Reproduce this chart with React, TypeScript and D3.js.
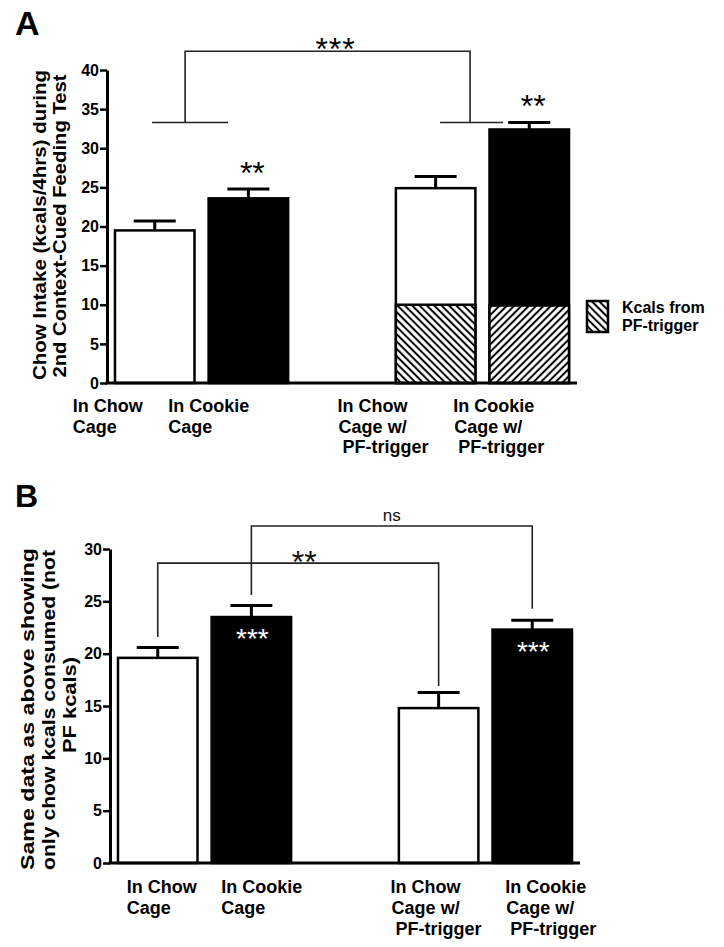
import React, { useRef, useEffect } from "react";
import * as d3 from "d3";

// group keys; "gap" keeps the empty slot between the two pairs of bars
const groupKeys = ["chow", "cookie", "gap", "chowPF", "cookiePF"];
const barKeys = ["chow", "cookie", "chowPF", "cookiePF"];
const barFill = ["#fff", "#000", "#fff", "#000"];
const groupLabels = [
  ["In Chow", "Cage"],
  ["In Cookie", "Cage"],
  ["In Chow", "Cage w/", "PF-trigger"],
  ["In Cookie", "Cage w/", "PF-trigger"],
];

// panel A: chow intake (kcals / 4hrs) incl. PF-trigger kcals
const totalMean = [19.5, 23.6, 24.9, 32.4];
const totalSem = [1.2, 1.2, 1.5, 0.9];
const pfKcal = [0, 0, 10.0, 9.9];
const pfHatch = ["", "", "hatchBack", "hatchFwd"];
const starsA = ["", "**", "", "**"];
const ticksA = [0, 5, 10, 15, 20, 25, 30, 35, 40];

// panel B: only chow kcals
const chowMean = [19.6, 23.5, 14.8, 22.3];
const chowSem = [1.0, 1.1, 1.5, 0.9];
const starsB = ["", "***", "", "***"];
const ticksB = [0, 5, 10, 15, 20, 25, 30];

// comparison brackets, in axis units
const bracketA = { label: "***", top: 42.4, foot: 33.3 };
const bracketsB = [
  { from: "chow", to: "chowPF", top: 28.65, footFrom: 21.6, footTo: 16.9, label: "**" },
  { from: "cookie", to: "cookiePF", top: 32.2, footFrom: 25.6, footTo: 24.3, label: "ns" },
];

const FONT = "'Liberation Sans', Arial, Helvetica, sans-serif";

const xA = d3.scaleBand().domain(groupKeys).range([107, 577]).paddingInner(0.124).paddingOuter(0.072);
const yA = d3.scaleLinear().domain([0, 40]).range([383, 70]);
const xB = d3.scaleBand().domain(groupKeys).range([110, 580]).paddingInner(0.124).paddingOuter(0.072);
const yB = d3.scaleLinear().domain([0, 30]).range([863, 549]);

const labelShiftA = [-41, -39, -57, -35];
const labelShiftB = [10, 11, -7, 14];
const lineIndent = [0, 1, 5];

const Bars = ({ x, y, mean, sem }) => {
  const bw = x.bandwidth();
  return (
    <g>
      {barKeys.map((k, i) => {
        const cx = x(k) + bw / 2;
        const top = y(mean[i] + sem[i]);
        return (
          <g key={k}>
            <line x1={cx} x2={cx} y1={y(mean[i])} y2={top} stroke="#000" strokeWidth={3} />
            <line x1={cx - 21} x2={cx + 21} y1={top} y2={top} stroke="#000" strokeWidth={3} />
            <rect
              x={x(k) + 1.25}
              y={y(mean[i])}
              width={bw - 2.5}
              height={y(0) - y(mean[i])}
              fill={barFill[i]}
              stroke="#000"
              strokeWidth={2.5}
            />
          </g>
        );
      })}
    </g>
  );
};

const Labels = ({ x, y0, shift, step }) => (
  <g fontFamily={FONT} fontWeight="bold" fontSize={18} fill="#000">
    {barKeys.map((k, i) =>
      groupLabels[i].map((line, j) => (
        <text key={k + j} x={x(k) + shift[i] + (groupLabels[i].length > 2 ? lineIndent[j] : 0)} y={y0 + j * step}>
          {line}
        </text>
      ))
    )}
  </g>
);

export default function App() {
  const axisA = useRef(null);
  const axisB = useRef(null);

  useEffect(() => {
    const draw = (node, y, ticks) => {
      const g = d3.select(node);
      g.call(d3.axisLeft(y).tickValues(ticks).tickSize(7).tickSizeOuter(0).tickPadding(1));
      g.attr("font-size", 16).attr("font-family", FONT).attr("font-weight", "bold");
      g.select(".domain").attr("stroke", "#000").attr("stroke-width", 3);
      g.selectAll(".tick line").attr("stroke", "#000").attr("stroke-width", 2.5);
      g.selectAll(".tick text").attr("fill", "#000");
    };
    draw(axisA.current, yA, ticksA);
    draw(axisB.current, yB, ticksB);
  }, []);

  const bwA = xA.bandwidth();
  const bwB = xB.bandwidth();
  const legA = xA("chow") + bwA * 0.87;
  const legB = xA("chowPF") + bwA * 0.92;
  const legendX = xA.range()[1] + 10;
  const legendY = 301;

  return (
    <svg width={724} height={947} style={{ position: "absolute", left: 0, top: 0, background: "#fff" }}>
      <defs>
        <pattern id="hatchBack" patternUnits="userSpaceOnUse" width={5.2} height={5.2} patternTransform="rotate(-45)">
          <rect width={5.2} height={5.2} fill="#fff" />
          <line x1={2.6} x2={2.6} y1={0} y2={5.2} stroke="#000" strokeWidth={2} />
        </pattern>
        <pattern id="hatchFwd" patternUnits="userSpaceOnUse" width={5.2} height={5.2} patternTransform="rotate(45)">
          <rect width={5.2} height={5.2} fill="#fff" />
          <line x1={2.6} x2={2.6} y1={0} y2={5.2} stroke="#000" strokeWidth={2} />
        </pattern>
      </defs>

      {/* ---------- panel A ---------- */}
      <text x={15} y={35} fontFamily={FONT} fontWeight="bold" fontSize={34}>A</text>
      <g fontFamily={FONT} fontWeight="bold" fontSize={18} textAnchor="middle">
        <text transform="translate(46,225) rotate(-90)" textLength={310} lengthAdjust="spacingAndGlyphs">
          Chow Intake (kcals/4hrs) during
        </text>
        <text transform="translate(66,226) rotate(-90)" textLength={303} lengthAdjust="spacingAndGlyphs">
          2nd Context-Cued Feeding Test
        </text>
      </g>

      <Bars x={xA} y={yA} mean={totalMean} sem={totalSem} />
      {barKeys.map((k, i) =>
        pfKcal[i] > 0 ? (
          <rect
            key={k}
            x={xA(k) + 1.25}
            y={yA(pfKcal[i])}
            width={bwA - 2.5}
            height={yA(0) - yA(pfKcal[i])}
            fill={`url(#${pfHatch[i]})`}
            stroke="#000"
            strokeWidth={2.5}
          />
        ) : null
      )}
      <g fontFamily={FONT} fontSize={32} textAnchor="middle">
        {barKeys.map((k, i) =>
          starsA[i] ? (
            <text key={k} x={xA(k) + bwA / 2 + 4} y={yA(totalMean[i] + totalSem[i]) - 5}>
              {starsA[i]}
            </text>
          ) : null
        )}
      </g>

      {/* bracket between the two pairs */}
      <g stroke="#222" strokeWidth={1.6} fill="none">
        <path d={`M${legA},${yA(bracketA.foot)}V${yA(bracketA.top)}H${legB}V${yA(bracketA.foot)}`} />
        <line x1={legA - 33} x2={legA + 43} y1={yA(bracketA.foot)} y2={yA(bracketA.foot)} />
        <line x1={legB - 30} x2={legB + 33} y1={yA(bracketA.foot)} y2={yA(bracketA.foot)} />
      </g>
      <text x={(legA + legB) / 2 + 8} y={yA(bracketA.top) + 9} fontFamily={FONT} fontSize={32} textAnchor="middle" letterSpacing={1}>
        {bracketA.label}
      </text>

      <g ref={axisA} transform={`translate(${xA.range()[0]},0)`} />
      <line x1={xA.range()[0] - 1.5} x2={xA.range()[1]} y1={yA(0)} y2={yA(0)} stroke="#000" strokeWidth={3} />
      <Labels x={xA} y0={yA(0) + 29} shift={labelShiftA} step={20.5} />

      {/* legend */}
      <rect x={legendX} y={legendY} width={21} height={31} fill="url(#hatchBack)" stroke="#000" strokeWidth={2.5} />
      <g fontFamily={FONT} fontWeight="bold" fontSize={16}>
        <text x={legendX + 35} y={legendY + 12}>Kcals from</text>
        <text x={legendX + 35} y={legendY + 30}>PF-trigger</text>
      </g>

      {/* ---------- panel B ---------- */}
      <text x={15} y={507} fontFamily={FONT} fontWeight="bold" fontSize={32}>B</text>
      <g fontFamily={FONT} fontWeight="bold" fontSize={18} textAnchor="middle">
        <text transform="translate(34,709) rotate(-90)" textLength={322} lengthAdjust="spacingAndGlyphs">
          Same data as above showing
        </text>
        <text transform="translate(55,710) rotate(-90)" textLength={320} lengthAdjust="spacingAndGlyphs">
          only chow kcals consumed (not
        </text>
        <text transform="translate(76,705) rotate(-90)" textLength={96} lengthAdjust="spacingAndGlyphs">
          PF kcals)
        </text>
      </g>

      <Bars x={xB} y={yB} mean={chowMean} sem={chowSem} />
      <g fontFamily={FONT} fontSize={28} textAnchor="middle" fill="#fff">
        {barKeys.map((k, i) =>
          starsB[i] ? (
            <text key={k} x={xB(k) + bwB / 2 + 1} y={yB(chowMean[i]) + 31}>
              {starsB[i]}
            </text>
          ) : null
        )}
      </g>

      {bracketsB.map((b) => {
        const x1 = xB(b.from) + bwB / 2;
        const x2 = xB(b.to) + bwB / 2;
        const isStars = b.label !== "ns";
        return (
          <g key={b.label}>
            <path
              d={`M${x1},${yB(b.footFrom)}V${yB(b.top)}H${x2}V${yB(b.footTo)}`}
              stroke="#222"
              strokeWidth={1.6}
              fill="none"
            />
            <text
              x={(x1 + x2) / 2 + (isStars ? 6 : 0)}
              y={yB(b.top) + (isStars ? 10 : -5)}
              fontFamily={FONT}
              fontSize={isStars ? 32 : 17}
              textAnchor="middle"
              fill="#111"
            >
              {b.label}
            </text>
          </g>
        );
      })}

      <g ref={axisB} transform={`translate(${xB.range()[0]},0)`} />
      <line x1={xB.range()[0] - 1.5} x2={xB.range()[1]} y1={yB(0)} y2={yB(0)} stroke="#000" strokeWidth={3} />
      <Labels x={xB} y0={yB(0) + 30} shift={labelShiftB} step={21} />
    </svg>
  );
}
